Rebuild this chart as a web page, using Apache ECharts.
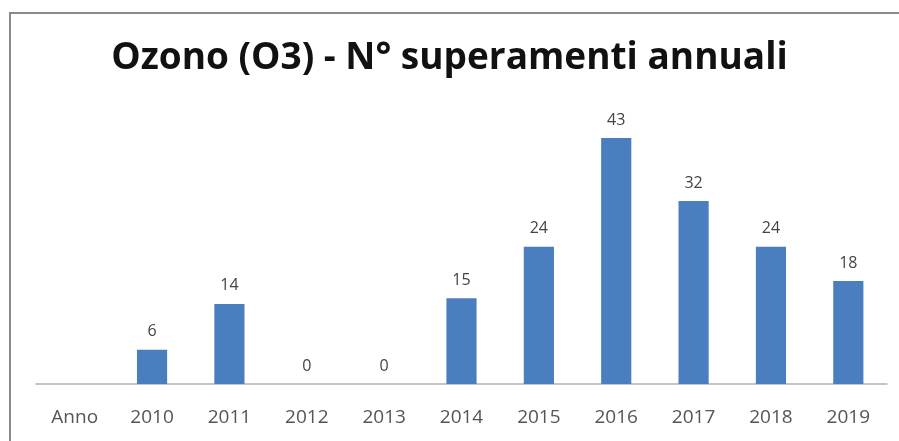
<!DOCTYPE html>
<html><head><meta charset="utf-8">
<script src="https://cdn.jsdelivr.net/npm/echarts@6/dist/echarts.min.js"></script>
<style>html,body{margin:0;padding:0;background:#fff}#c{width:899px;height:441px}</style>
</head><body><div id="c"></div>
<script>
const titleText = 'Ozono (O3) - N° superamenti annuali';
const categories = ['Anno','2010','2011','2012','2013','2014','2015','2016','2017','2018','2019'];
const values = [null,6,14,0,0,15,24,43,32,24,18];

const chart = echarts.init(document.getElementById('c'));
chart.setOption({
  backgroundColor:'#fff',
  animation:false,
  graphic:[{type:'rect',shape:{x:10,y:13,width:1000,height:600},style:{fill:'none',stroke:'#8a8a8a',lineWidth:2},z:-1}],
  title:{text:titleText,left:'center',top:35,textStyle:{fontFamily:'Open Sans',fontWeight:'bold',fontSize:37,color:'#111'}},
  grid:{left:36,right:12,top:98,bottom:57},
  xAxis:{type:'category',data:categories,axisLine:{lineStyle:{color:'#b3b3b3',width:1.5}},axisTick:{show:false},
    axisLabel:{fontFamily:'Open Sans',fontSize:19,color:'#555',margin:24}},
  yAxis:{type:'value',min:0,max:50,show:false,splitLine:{show:false}},
  series:[{type:'bar',data:values,barWidth:'39%',itemStyle:{color:'#4a7ebf'},
    label:{show:true,position:'top',distance:10,fontFamily:'Open Sans',fontSize:16,color:'#444'}}]
});
</script></body></html>
